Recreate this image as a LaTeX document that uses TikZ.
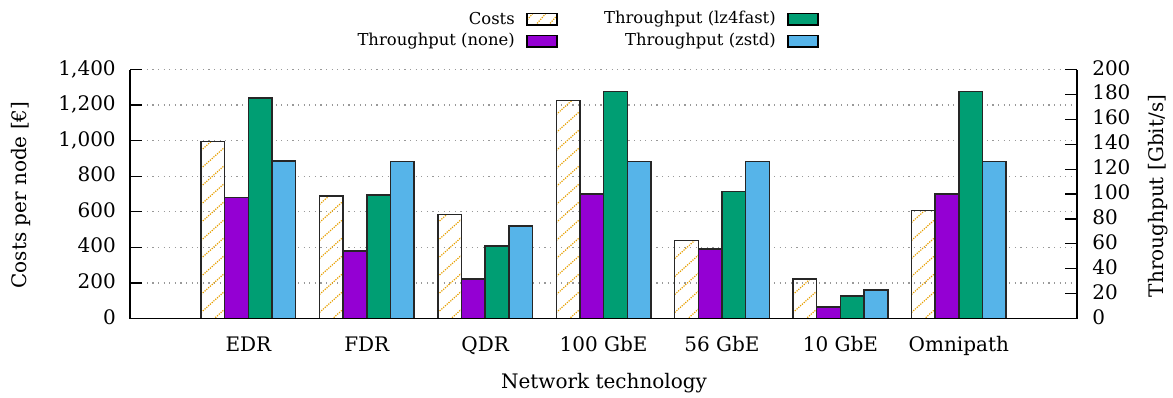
\documentclass[tikz,border=0pt]{standalone}
\usepackage{fontspec}
\setmainfont{DejaVu Serif}
\definecolor{cviolet}{HTML}{9400D3}
\definecolor{cgreen}{HTML}{009E73}
\definecolor{cblue}{HTML}{56B4E9}
\definecolor{corange}{HTML}{E69F00}
\tikzset{
 bar/.style={draw=black!85, line width=1.1pt},
 legbox/.style={draw=black, line width=0.9pt},
 hatchline/.style={corange, dash pattern=on 0.9pt off 0.9pt, line width=0.9pt},
 gridline/.style={black!40, dash pattern=on 0.9pt off 3.3pt, line width=0.9pt},
 axisline/.style={black, line width=1.1pt},
 tickline/.style={black, line width=0.9pt},
 ticklab/.style={font=\fontsize{15}{18}\selectfont, inner sep=0pt},
 leglab/.style={font=\fontsize{12.3}{14}\selectfont, inner sep=0pt, anchor=east},
}
\begin{document}
\begin{tikzpicture}[x=0.75pt,y=-0.75pt]
\useasboundingbox (0,0) rectangle (1173,397);
% grid
\foreach \v in {200,400,...,1400}{
  \pgfmathsetmacro\yy{318.5-\v*0.177857}
  \draw[gridline] (130,\yy) -- (1077.2,\yy);
}
% bars
\foreach \nm/\cc/\nn/\lz/\zs [count=\i from 0] in {EDR/994/97.2/177/126.4, FDR/690/54.4/99.3/126.1, QDR/585/31.6/58.1/74.4, 100 GbE/1225/100/182.3/126.1, 56 GbE/439/55.7/102/126.1, 10 GbE/223/9.4/17.9/23, Omnipath/608/100/182.3/126.1}{
  \pgfmathsetmacro\cx{248.4+118.4*\i}
  \pgfmathsetmacro\xa{\cx-47.36}
  \pgfmathsetmacro\xb{\cx-23.68}
  \pgfmathsetmacro\xc{\cx}
  \pgfmathsetmacro\xd{\cx+23.68}
  \pgfmathsetmacro\xe{\cx+47.36}
  \pgfmathsetmacro\yc{318.5-\cc*0.177857}
  \pgfmathsetmacro\yn{318.5-\nn*1.245}
  \pgfmathsetmacro\yl{318.5-\lz*1.245}
  \pgfmathsetmacro\yz{318.5-\zs*1.245}
  \begin{scope}
    \clip (\xa,318.5) rectangle (\xb,\yc);
    \foreach \k in {0,...,14}{
      \draw[hatchline] (\xa,{318.5+12-18*\k}) -- ++(30,-27);
    }
  \end{scope}
  \draw[bar] (\xa,318.5) rectangle (\xb,\yc);
  \draw[bar, fill=cviolet] (\xb,318.5) rectangle (\xc,\yn);
  \draw[bar, fill=cgreen] (\xc,318.5) rectangle (\xd,\yl);
  \draw[bar, fill=cblue] (\xd,318.5) rectangle (\xe,\yz);
  \node[ticklab, anchor=base] (xt\i) at (\cx,351.5) {\nm};
}
% axes
\draw[axisline] (130,69.5) -- (130,318.5) -- (1077.2,318.5) -- (1077.2,69.5);
\foreach \v/\t [count=\j] in {0/0,200/200,400/400,600/600,800/800,1000/{1,000},1200/{1,200},1400/{1,400}}{
  \pgfmathsetmacro\yy{318.5-\v*0.177857}
  \draw[tickline] (130,\yy) -- (142,\yy);
  \node[ticklab, anchor=base east] (yl\j) at (116,\yy+5.5) {\t};
}
\foreach \v [count=\j] in {0,20,...,200}{
  \pgfmathsetmacro\yy{318.5-\v*1.245}
  \draw[tickline] (1077.2,\yy) -- (1065,\yy);
  \node[ticklab, anchor=base west] (yr\j) at (1092,\yy+5.5) {\v};
}
\node[ticklab, rotate=90] (ylab) at (21,195) {Costs per node [€]};
\node[ticklab, rotate=90] (y2lab) at (1158,196) {Throughput [Gbit/s]};
\node[ticklab, anchor=base] (xlab) at (604,388) {Network technology};
% legend
\node[leglab] (lcost) at (515,19) {Costs};
\begin{scope}
  \clip (527,13.5) rectangle (557,25);
  \foreach \k in {0,1,2}{
    \draw[hatchline] ({527-6+13*\k},27) -- ++(14,-16);
  }
\end{scope}
\draw[legbox] (527,13.5) rectangle (557,25);
\node[leglab] (lnone) at (515,41) {Throughput (none)};
\draw[legbox, fill=cviolet] (527,35.5) rectangle (557,47);
\node[leglab] (llz) at (776,19) {Throughput (lz4fast)};
\draw[legbox, fill=cgreen] (788,13.5) rectangle (818,25);
\node[leglab] (lzs) at (776,41) {Throughput (zstd)};
\draw[legbox, fill=cblue] (788,35.5) rectangle (818,47);
\end{tikzpicture}
\end{document}
